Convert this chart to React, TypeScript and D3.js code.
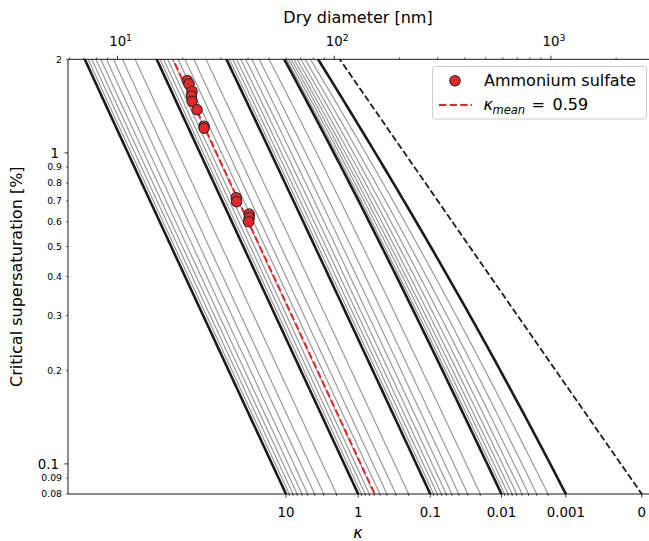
import React, { useMemo } from 'react';
import * as d3 from 'd3';

const W = 649;
const H = 541;
const FONT = 'DejaVu Sans, sans-serif';

// Kelvin term 4*sigma*Mw/(R*T*rho_w), nm
const A_NM = 2.1;

// kappa lines
const kappaThick = [10, 1, 0.1, 0.01, 0.001];
const kappaThin = [
  9, 8, 7, 6, 5, 4, 3, 2,
  0.9, 0.8, 0.7, 0.6, 0.5, 0.4, 0.3, 0.2,
  0.09, 0.08, 0.07, 0.06, 0.05, 0.04, 0.03, 0.02,
  0.009, 0.008, 0.007, 0.006, 0.005, 0.004, 0.003, 0.002,
];
const kappaInsoluble = 0;
const kappaMean = 0.59;
const kappaTickLabels = ['10', '1', '0.1', '0.01', '0.001', '0'];

// ammonium sulfate measurements
const asDiameter = [20.96, 21.36, 22.06, 21.94, 22.06, 23.26, 25.06, 25.06, 35.26, 35.44, 40.5, 40.5, 40.28];
const asCritSS = [1.71, 1.667, 1.577, 1.525, 1.465, 1.377, 1.219, 1.201, 0.718, 0.697, 0.636, 0.619, 0.601];

// axis ticks
const yMajor = [1, 0.1];
const yMinor = [2, 0.9, 0.8, 0.7, 0.6, 0.5, 0.4, 0.3, 0.2, 0.09, 0.08];
const topMajor = [10, 100, 1000];
const topMinor = [6, 7, 8, 9, 20, 30, 40, 50, 60, 70, 80, 90, 200, 300, 400, 500, 600, 700, 800, 900, 2000];

// layout
const left = 68;
const top = 59.3;
const bottom = 494;
const right = 700;

const xScale = d3.scaleLog().domain([10, 1000]).range([117.6, 550.9]);
const yScale = d3.scaleLog().domain([0.08, 2]).range([bottom, top]);

// critical supersaturation [%] from full kappa-Koehler curve
function critSS(dd: number, k: number) {
  if (k <= 0) return (Math.exp(A_NM / dd) - 1) * 100;
  const dd3 = dd * dd * dd;
  const S = (lnD: number) => {
    const D = Math.exp(lnD);
    const D3 = D * D * D;
    return ((D3 - dd3) / (D3 - dd3 * (1 - k))) * Math.exp(A_NM / D);
  };
  const g = (Math.sqrt(5) - 1) / 2;
  let a = Math.log(dd);
  let b = a + 10;
  let c = b - g * (b - a);
  let d = a + g * (b - a);
  let fc = S(c);
  let fd = S(d);
  for (let i = 0; i < 90; i++) {
    if (fc > fd) {
      b = d; d = c; fd = fc;
      c = b - g * (b - a); fc = S(c);
    } else {
      a = c; c = d; fc = fd;
      d = a + g * (b - a); fd = S(d);
    }
  }
  return (Math.max(fc, fd) - 1) * 100;
}

// dry diameter where line of kappa k reaches supersaturation s
function diamAt(s: number, k: number) {
  let lo = Math.log(0.5), hi = Math.log(1e5);
  for (let i = 0; i < 60; i++) {
    const mid = (lo + hi) / 2;
    if (critSS(Math.exp(mid), k) > s) lo = mid; else hi = mid;
  }
  return Math.exp((lo + hi) / 2);
}

const diamSamples = d3.range(0, 261).map((i) => Math.pow(10, 0.4 + i * 0.0125));

const lineGen = d3
  .line<[number, number]>()
  .x((p) => xScale(p[0]))
  .y((p) => yScale(p[1]));

function kappaPath(k: number) {
  return lineGen(diamSamples.map((dd) => [dd, critSS(dd, k)] as [number, number])) || '';
}

const fmtY = (v: number) => String(v);

export default function App() {
  const paths = useMemo(() => {
    return {
      thin: kappaThin.map(kappaPath),
      thick: kappaThick.map(kappaPath),
      zero: kappaPath(kappaInsoluble),
      mean: kappaPath(kappaMean),
    };
  }, []);

  const bottomTicks = useMemo(() => {
    const sBottom = yScale.domain()[0];
    const majors = [...kappaThick, kappaInsoluble].map((k, i) => ({
      x: xScale(diamAt(sBottom, k)),
      label: kappaTickLabels[i],
    }));
    const minors = kappaThin.map((k) => xScale(diamAt(sBottom, k)));
    return { majors, minors };
  }, []);

  return (
    <div style={{ position: 'absolute', left: 0, top: 0 }}>
      <svg width={W} height={H} style={{ display: 'block', background: '#fff' }} fontFamily={FONT}>
        <defs>
          <clipPath id="plotClip">
            <rect x={left} y={top} width={right - left} height={bottom - top} />
          </clipPath>
        </defs>

        <g clipPath="url(#plotClip)" fill="none">
          {paths.thin.map((d, i) => (
            <path key={'t' + i} d={d} stroke="#9a9a9a" strokeWidth={1.2} />
          ))}
          {paths.thick.map((d, i) => (
            <path key={'k' + i} d={d} stroke="#1c1c1c" strokeWidth={2.6} />
          ))}
          <path d={paths.zero} stroke="#1c1c1c" strokeWidth={1.8} strokeDasharray="6.7,2.9" />
          <path d={paths.mean} stroke="#e8262a" strokeWidth={2} strokeDasharray="7.4,3.2" />
          {asDiameter.map((dd, i) => (
            <circle
              key={'p' + i}
              cx={xScale(dd)}
              cy={yScale(asCritSS[i])}
              r={5.2}
              fill="#e8262a"
              stroke="#2a2a2a"
              strokeWidth={1.1}
            />
          ))}
        </g>

        {/* spines */}
        <g stroke="#000" strokeWidth={0.9} fill="none">
          <line x1={left} x2={left} y1={top} y2={bottom} />
          <line x1={left} x2={right} y1={bottom} y2={bottom} />
          <line x1={left} x2={right} y1={top} y2={top} />
        </g>

        {/* left axis */}
        <g fill="#000">
          {yMajor.map((v) => (
            <g key={'ym' + v}>
              <line x1={left - 3.5} x2={left} y1={yScale(v)} y2={yScale(v)} stroke="#000" strokeWidth={0.8} />
              <text x={left - 9} y={yScale(v) + 4.8} fontSize={13.3} textAnchor="end">{fmtY(v)}</text>
            </g>
          ))}
          {yMinor.map((v) => (
            <g key={'yn' + v}>
              <line x1={left - 2} x2={left} y1={yScale(v)} y2={yScale(v)} stroke="#000" strokeWidth={0.6} />
              <text x={left - 6} y={yScale(v) + 3.3} fontSize={9.3} textAnchor="end">{fmtY(v)}</text>
            </g>
          ))}
          <text
            transform={`translate(22,${(top + bottom) / 2}) rotate(-90)`}
            fontSize={16}
            textAnchor="middle"
          >
            Critical supersaturation [%]
          </text>
        </g>

        {/* top axis: dry diameter */}
        <g fill="#000">
          {topMajor.map((v) => (
            <g key={'tm' + v}>
              <line x1={xScale(v)} x2={xScale(v)} y1={top - 3.5} y2={top} stroke="#000" strokeWidth={0.8} />
              <text x={xScale(v) + 3} y={top - 13} fontSize={13.3} textAnchor="middle">
                10
                <tspan fontSize={9.3} dy={-5.5}>{Math.round(Math.log10(v))}</tspan>
              </text>
            </g>
          ))}
          {topMinor.map((v) => (
            <line key={'tn' + v} x1={xScale(v)} x2={xScale(v)} y1={top - 2} y2={top} stroke="#000" strokeWidth={0.6} />
          ))}
          <text x={358} y={23} fontSize={16} textAnchor="middle">Dry diameter [nm]</text>
        </g>

        {/* bottom axis: kappa */}
        <g fill="#000">
          {bottomTicks.majors.map((t) => (
            <g key={'bm' + t.label}>
              <line x1={t.x} x2={t.x} y1={bottom} y2={bottom + 3.5} stroke="#000" strokeWidth={0.8} />
              <text x={t.x} y={bottom + 23} fontSize={13.3} textAnchor="middle">{t.label}</text>
            </g>
          ))}
          {bottomTicks.minors.map((x, i) => (
            <line key={'bn' + i} x1={x} x2={x} y1={bottom} y2={bottom + 2} stroke="#000" strokeWidth={0.6} />
          ))}
          <text x={358} y={538} fontSize={16} fontStyle="italic" textAnchor="middle">κ</text>
        </g>

        {/* legend */}
        <g>
          <rect x={432.5} y={66.5} width={214} height={52.5} rx={3} fill="#fff" fillOpacity={0.8} stroke="#cccccc" strokeWidth={1} />
          <circle cx={455} cy={80.7} r={5.2} fill="#e8262a" stroke="#2a2a2a" strokeWidth={1.1} />
          <text x={484} y={86} fontSize={16}>Ammonium sulfate</text>
          <line x1={439} x2={472} y1={105} y2={105} stroke="#e8262a" strokeWidth={2} strokeDasharray="7.4,3.2" />
          <text x={483.5} y={109.5} fontSize={16} fontStyle="italic">κ</text>
          <text x={492.5} y={114} fontSize={11.5} fontStyle="italic">mean</text>
          <text x={531.5} y={109.5} fontSize={16}>=</text>
          <text x={552.5} y={109.5} fontSize={16}>0.59</text>
        </g>
      </svg>
    </div>
  );
}
